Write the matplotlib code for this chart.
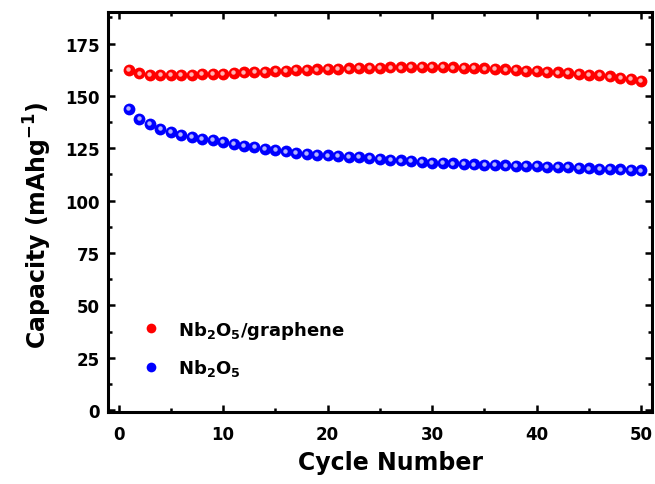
import matplotlib
matplotlib.use('Agg')
import matplotlib.pyplot as plt
import matplotlib.transforms as mtransforms
from matplotlib.lines import Line2D
from matplotlib.ticker import MultipleLocator

plt.rcParams['font.family'] = ['DejaVu Sans']
plt.rcParams['mathtext.default'] = 'regular'

cycles = list(range(1, 51))

# Nb2O5/graphene capacity (mAh/g)
cap_graphene = [162.3, 160.7, 160.2, 159.9, 159.9, 160.0, 160.2, 160.4, 160.4, 160.5,
                160.8, 161.2, 161.5, 161.6, 161.8, 161.9, 162.3, 162.4, 162.6, 162.7,
                162.9, 163.1, 163.2, 163.2, 163.4, 163.6, 163.6, 163.7, 163.9, 163.9,
                163.7, 163.6, 163.4, 163.2, 163.1, 162.7, 162.6, 162.4, 162.0, 161.9,
                161.6, 161.2, 160.9, 160.5, 160.2, 159.9, 159.3, 158.6, 158.0, 157.3]

# Nb2O5 capacity (mAh/g)
cap_bare = [143.6, 139.2, 136.5, 134.1, 132.8, 131.5, 130.5, 129.6, 129.0, 128.0,
            127.1, 126.1, 125.5, 124.8, 124.3, 123.5, 122.9, 122.4, 121.9, 121.6,
            121.3, 121.0, 120.7, 120.4, 120.0, 119.6, 119.2, 118.8, 118.4, 118.1,
            118.0, 117.8, 117.5, 117.3, 117.2, 117.0, 116.8, 116.7, 116.5, 116.4,
            116.2, 116.1, 115.9, 115.6, 115.4, 115.3, 115.1, 114.9, 114.8, 114.4]

labels = ['Nb$_2$O$_5$/graphene', 'Nb$_2$O$_5$']
colors = ['#ff0000', '#0000ff']
highlights = ['#ffe0e0', '#e0e0ff']

fig = plt.figure(figsize=(6.55, 4.85), dpi=100)
ax = fig.add_axes([0.165, 0.148, 0.83, 0.825])

# sphere-like markers: solid disc plus a pale highlight
hl_trans = mtransforms.offset_copy(ax.transData, fig=fig, x=-0.6, y=0.6, units='points')
for ys, c, h in zip([cap_graphene, cap_bare], colors, highlights):
    ax.plot(cycles, ys, 'o', color=c, markersize=8.5, markeredgewidth=0, zorder=3)
    ax.plot(cycles, ys, 'o', color=h, markersize=3.2, markeredgewidth=0, alpha=0.8,
            transform=hl_trans, zorder=4)

ax.set_xlim(-1, 51)
ax.set_ylim(-1, 190)
ax.xaxis.set_major_locator(MultipleLocator(10))
ax.xaxis.set_minor_locator(MultipleLocator(5))
ax.yaxis.set_minor_locator(MultipleLocator(12.5))
ax.set_yticks([0, 25, 50, 75, 100, 125, 150, 175])

ax.tick_params(which='both', direction='in', top=True, right=True, width=1.8)
ax.tick_params(which='major', length=5, labelsize=12, pad=6)
ax.tick_params(axis='x', which='major', pad=9)
ax.tick_params(which='minor', length=3)
for lab in ax.get_xticklabels() + ax.get_yticklabels():
    lab.set_fontweight('bold')
for sp in ax.spines.values():
    sp.set_linewidth(2.2)

ax.set_xlabel('Cycle Number', fontsize=17, fontweight='bold')
ax.set_ylabel('Capacity (mAhg$^{\\mathbf{-1}}$)', fontsize=17, fontweight='bold')
ax.xaxis.set_label_coords(0.52, -0.095)
ax.yaxis.set_label_coords(-0.10, 0.47)

handles = [Line2D([], [], marker='o', ls='', color=c, markersize=7, markeredgewidth=0)
           for c in colors]
leg = ax.legend(handles, labels, loc='center left', bbox_to_anchor=(0.032, 0.16),
                frameon=False, handlelength=1.0, handletextpad=1.0, labelspacing=0.9,
                prop={'size': 13, 'weight': 'bold'})

fig.savefig('out.png', dpi=100)
